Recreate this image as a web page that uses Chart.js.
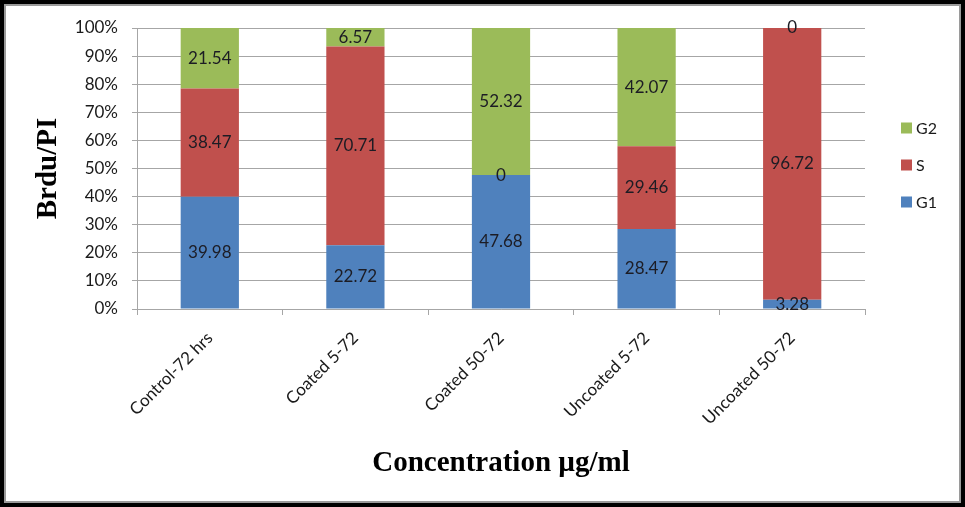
<!DOCTYPE html>
<html>
<head>
<meta charset="utf-8">
<script src="https://cdn.jsdelivr.net/npm/chart.js@4"></script>
<style>
  html, body { margin: 0; padding: 0; background: #fff; }
  #wrap { position: relative; width: 965px; height: 507px; }
  #c { position: absolute; left: 0; top: 0; }
  #frame {
    position: absolute; left: 0; top: 0; width: 965px; height: 507px;
    box-sizing: border-box; border: 4px solid #000;
    box-shadow: inset 0 0 0 2px #9a9a9a; pointer-events: none;
  }
</style>
</head>
<body>
<div id="wrap">
  <canvas id="c" width="965" height="507"></canvas>
  <div id="frame"></div>
</div>
<script>
// Cell-cycle phase distribution (percent of cells) per treatment
const categories = ['Control-72 hrs', 'Coated 5-72', 'Coated 50-72', 'Uncoated 5-72', 'Uncoated 50-72'];
const g1Values = [39.98, 22.72, 47.68, 28.47, 3.28];
const sValues  = [38.47, 70.71, 0, 29.46, 96.72];
const g2Values = [21.54, 6.57, 52.32, 42.07, 0];
const yTicks = [0, 10, 20, 30, 40, 50, 60, 70, 80, 90, 100];

const FONT = 'Lato, "Open Sans", sans-serif';
const SERIF = '"Liberation Serif", "Times New Roman", serif';

// Values written at the middle of each stacked segment
const segmentLabels = {
  id: 'segmentLabels',
  afterDatasetsDraw(chart) {
    const ctx = chart.ctx;
    ctx.save();
    ctx.font = '17px ' + FONT;
    ctx.fillStyle = '#1c1c24';
    ctx.textAlign = 'center';
    ctx.textBaseline = 'middle';
    chart.data.datasets.forEach((ds, i) => {
      const meta = chart.getDatasetMeta(i);
      meta.data.forEach((bar, j) => {
        const yMid = (bar.y + bar.base) / 2;
        ctx.fillText(String(ds.data[j]), bar.x, yMid);
      });
    });
    ctx.restore();
  }
};

// Legend column on the right, top entry = top of stack
const sideLegend = {
  id: 'sideLegend',
  afterDraw(chart) {
    const ctx = chart.ctx;
    const items = chart.data.datasets.map(d => ({ label: d.label, color: d.backgroundColor })).reverse();
    ctx.save();
    ctx.font = '16px ' + FONT;
    ctx.textBaseline = 'middle';
    ctx.textAlign = 'left';
    const x0 = chart.chartArea.right + 36;
    const y0 = 128;
    const step = 37;
    items.forEach((it, k) => {
      const y = y0 + k * step;
      ctx.fillStyle = it.color;
      ctx.fillRect(x0, y - 5.5, 11, 11);
      ctx.fillStyle = '#1a1a1a';
      ctx.fillText(it.label, x0 + 15, y + 1);
    });
    ctx.restore();
  }
};

new Chart(document.getElementById('c'), {
  type: 'bar',
  data: {
    labels: categories,
    datasets: [
      { label: 'G1', data: g1Values, backgroundColor: '#4F81BD' },
      { label: 'S',  data: sValues,  backgroundColor: '#C0504D' },
      { label: 'G2', data: g2Values, backgroundColor: '#9BBB59' }
    ]
  },
  options: {
    responsive: false,
    animation: false,
    events: [],
    layout: { padding: { top: 28, right: 100, left: 0, bottom: 0 } },
    datasets: { bar: { categoryPercentage: 1.0, barPercentage: 0.4 } },
    plugins: {
      legend: { display: false },
      tooltip: { enabled: false }
    },
    scales: {
      x: {
        stacked: true,
        afterFit(scale) { scale.height = 198; },
        grid: {
          offset: true,
          drawOnChartArea: false,
          drawTicks: true,
          tickLength: 6,
          color: '#a6a6a6'
        },
        border: { color: '#a6a6a6' },
        ticks: {
          minRotation: 45,
          maxRotation: 45,
          autoSkip: false,
          padding: 13,
          color: '#1a1a1a',
          font: { family: FONT, size: 17 }
        },
        title: {
          display: true,
          text: 'Concentration µg/ml',
          color: '#000',
          font: { family: SERIF, size: 29, weight: 'bold' },
          padding: { top: 0, bottom: 26 }
        }
      },
      y: {
        stacked: true,
        min: 0,
        max: 100,
        afterFit(scale) { scale.width = 137; },
        afterBuildTicks(scale) { scale.ticks = yTicks.map(v => ({ value: v })); },
        grid: {
          color: '#a6a6a6',
          tickLength: 5
        },
        border: { color: '#a6a6a6' },
        ticks: {
          padding: 14,
          color: '#1a1a1a',
          font: { family: FONT, size: 17 },
          callback: v => v + '%'
        },
        title: {
          display: true,
          text: 'Brdu/PI',
          color: '#000',
          font: { family: SERIF, size: 29, weight: 'bold' },
          padding: { top: 31, bottom: 0 }
        }
      }
    }
  },
  plugins: [segmentLabels, sideLegend]
});
</script>
</body>
</html>
